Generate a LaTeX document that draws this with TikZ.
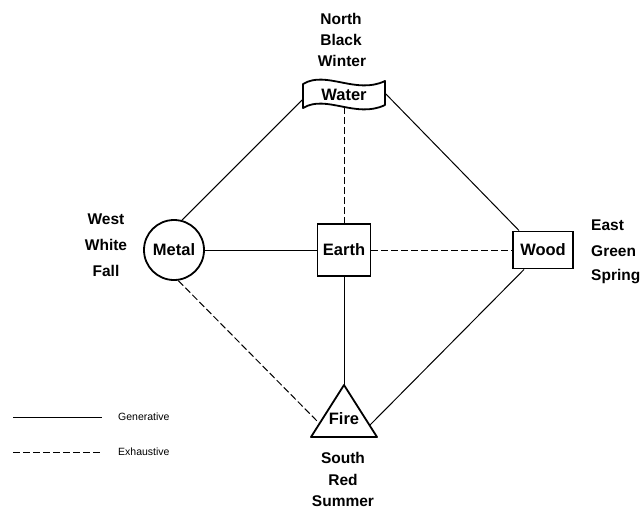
\documentclass[tikz,border=0pt]{standalone}
\usepackage{fontspec}
\setmainfont{Liberation Sans}
\begin{document}
\begin{tikzpicture}[x=1pt,y=-1pt,
  lbl/.style={font=\bfseries\fontsize{15.5}{15.5}\selectfont, inner sep=0pt},
  elem/.style={font=\bfseries\fontsize{16.5}{16.5}\selectfont, inner sep=0pt, line width=1.8pt},
  shp/.style={line width=1.8pt, line join=round},
  conn/.style={line width=1pt},
  exh/.style={line width=1pt, dash pattern=on 7pt off 3pt},
  leg/.style={font=\fontsize{10.5}{10.5}\selectfont, inner sep=0pt, anchor=west}]
\useasboundingbox (0,0) rectangle (642,509);
% elements
\node[elem, draw, circle, minimum size=60pt] (metal) at (174,250) {Metal};
\node[elem, draw, rectangle, minimum width=53pt, minimum height=52pt] (earth) at (344,250) {Earth};
\node[elem, draw, rectangle, minimum width=60pt, minimum height=37pt] (wood) at (543,250) {Wood};
\node[elem, minimum width=82pt, minimum height=26pt] (water) at (344,94) {};
\draw[shp] (303,84) .. controls (326,70) and (356,95) .. (385,81) -- (385,105)
  .. controls (356,119) and (326,94) .. (303,108) -- cycle;
\node[elem] at (344,95) {Water};
\draw[shp] (344,385) -- (377,437) -- (311,437) -- cycle;
\coordinate (fireTop) at (344,385);
\coordinate (fireL) at (319,423);
\coordinate (fireR) at (370,425);
\node[elem] (fire) at (344,419) {Fire};
% direction labels
\node[lbl] (n1) at (341,19) {North};
\node[lbl] (n2) at (341,40) {Black};
\node[lbl] (n3) at (342,61) {Winter};
\node[lbl] (w1) at (106,219) {West};
\node[lbl] (w2) at (106,245) {White};
\node[lbl] (w3) at (106,271) {Fall};
\node[lbl, anchor=west] (e1) at (591,225) {East};
\node[lbl, anchor=west] (e2) at (591,251) {Green};
\node[lbl, anchor=west] (e3) at (591,277) {Spring};
\node[lbl] (s1) at (343,458) {South};
\node[lbl] (s2) at (343,480) {Red};
\node[lbl] (s3) at (343,501) {Summer};
% connectors
\draw[conn] ([yshift=-6pt]water.west) -- (metal.75);
\draw[conn] (water.east) -- ([xshift=7pt]wood.north west);
\draw[exh] (344,107) -- (earth.north);
\draw[conn] (metal) -- (earth);
\draw[exh] (earth) -- (wood);
\draw[conn] (earth.south) -- (fireTop);
\draw[exh] (metal.-82) -- (fireL);
\draw[conn] ([xshift=12pt]wood.south west) -- (fireR);
% legend
\coordinate (g1) at (13,417);
\coordinate (g2) at (102,417);
\coordinate (x1) at (13,452);
\coordinate (x2) at (102,452);
\draw[conn] (g1) -- (g2);
\draw[exh] (x1) -- (x2);
\node[leg] (gen) at (118,417) {Generative};
\node[leg] (exhl) at (118,452) {Exhaustive};
\end{tikzpicture}
\end{document}
